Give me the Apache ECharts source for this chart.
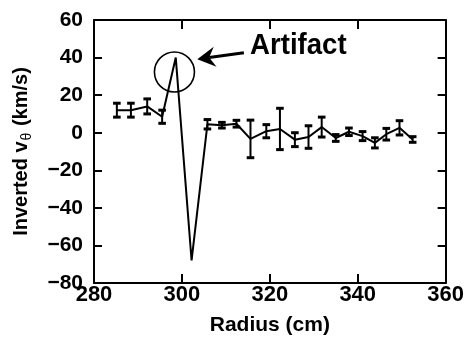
<!DOCTYPE html>
<html>
<head>
<meta charset="utf-8">
<script src="https://cdn.jsdelivr.net/npm/echarts@6/dist/echarts.min.js"></script>
<style>html,body{margin:0;padding:0;background:#fff}#c{width:467px;height:346px}</style>
</head>
<body>
<div id="c"></div>
<script>
// Data
const radius = [285.2, 288.4, 292.1, 295.5, 298.6, 302.2, 305.8, 309.1, 312.4, 315.6, 319.2, 322.3, 325.7, 328.8, 331.8, 335.0, 338.0, 341.1, 343.9, 346.5, 349.5, 352.5];
const vtheta = [12, 12, 14, 8.5, 40, -68, 4.5, 4, 4.8, -3.3, 0.8, 2, -3.7, -2.3, 3, -2.8, 0.5, -1.8, -5.4, -0.8, 2.6, -3.6];
const errHalf = [3.7, 3.7, 4, 3.5, 0, 0, 2.5, 1.5, 1.8, 10, 3.5, 11, 3.7, 6, 5.3, 1.8, 2, 2.4, 2.7, 3.1, 3.8, 1.5];
const xTicks = [280, 300, 320, 340, 360];
const yTicks = [-80, -60, -40, -20, 0, 20, 40, 60];
const annotation = { text: 'Artifact', circleCenter: [298.3, 32.3], arrowTip: [303.5, 39.1], arrowTail: [314.1, 42.6], textAnchor: [315.5, 46.2] };

const FONT = '"Liberation Sans", Arial, sans-serif';
const chart = echarts.init(document.getElementById('c'), null, { renderer: 'canvas' });

const lineData = radius.map((r, i) => [r, vtheta[i]]);
const errData = radius.map((r, i) => [r, vtheta[i] - errHalf[i], vtheta[i] + errHalf[i]]).filter((d, i) => errHalf[i] > 0);

const axisCommon = {
  min: xTicks[0], max: xTicks[xTicks.length - 1], interval: 20,
  axisLine: { show: true, onZero: false, lineStyle: { color: '#000', width: 2 } },
  axisTick: { show: true, inside: true, length: 9, lineStyle: { color: '#000', width: 2 } },
  splitLine: { show: false }
};

chart.setOption({
  animation: false,
  grid: { left: 94, right: 15, top: 20, bottom: 63, containLabel: false },
  xAxis: [
    Object.assign({}, axisCommon, {
      type: 'value', position: 'bottom',
      axisLabel: { color: '#000', fontFamily: FONT, fontWeight: 'bold', fontSize: 22, margin: 1, showMinLabel: true, showMaxLabel: true },
      name: 'Radius (cm)', nameLocation: 'middle', nameGap: 32,
      nameTextStyle: { color: '#000', fontFamily: FONT, fontWeight: 'bold', fontSize: 21 }
    }),
    Object.assign({}, axisCommon, { type: 'value', position: 'top', axisLabel: { show: false } })
  ],
  yAxis: [
    {
      type: 'value', min: yTicks[0], max: yTicks[yTicks.length - 1], interval: 20, position: 'left',
      axisLine: { show: true, onZero: false, lineStyle: { color: '#000', width: 2 } },
      axisTick: { show: true, inside: true, length: 8, lineStyle: { color: '#000', width: 2 } },
      splitLine: { show: false },
      axisLabel: { color: '#000', fontFamily: FONT, fontWeight: 'bold', fontSize: 21, margin: 11,
        formatter: v => (v < 0 ? '\u2212' + Math.abs(v) : String(v)) },
      name: 'Inverted v{sub|θ} (km/s)', nameLocation: 'middle', nameGap: 60, nameRotate: 90,
      nameTextStyle: { color: '#000', fontFamily: FONT, fontWeight: 'bold', fontSize: 20,
        rich: { sub: { fontFamily: FONT, fontWeight: 'normal', fontSize: 14, color: '#000', padding: [12, 1, 0, 1] } } }
    },
    {
      type: 'value', min: yTicks[0], max: yTicks[yTicks.length - 1], interval: 20, position: 'right',
      axisLine: { show: true, onZero: false, lineStyle: { color: '#000', width: 2 } },
      axisTick: { show: true, inside: true, length: 8, lineStyle: { color: '#000', width: 2 } },
      splitLine: { show: false }, axisLabel: { show: false }
    }
  ],
  series: [
    {
      type: 'line', data: lineData, symbol: 'none', xAxisIndex: 0, yAxisIndex: 0,
      lineStyle: { color: '#000', width: 2 }, z: 3
    },
    {
      type: 'custom', xAxisIndex: 0, yAxisIndex: 0, z: 4,
      data: errData,
      renderItem: function (params, api) {
        const x = api.value(0);
        const lo = api.coord([x, api.value(1)]);
        const hi = api.coord([x, api.value(2)]);
        const cw = 3.8;
        const st = { stroke: '#000', lineWidth: 2 };
        return {
          type: 'group',
          children: [
            { type: 'line', shape: { x1: lo[0], y1: lo[1], x2: hi[0], y2: hi[1] }, style: st },
            { type: 'line', shape: { x1: lo[0] - cw, y1: lo[1], x2: lo[0] + cw, y2: lo[1] }, style: { stroke: '#000', lineWidth: 3 } },
            { type: 'line', shape: { x1: hi[0] - cw, y1: hi[1], x2: hi[0] + cw, y2: hi[1] }, style: { stroke: '#000', lineWidth: 3 } }
          ]
        };
      }
    }
  ]
});

function drawAnnotation() {
  const c = chart.convertToPixel({ xAxisIndex: 0, yAxisIndex: 0 }, annotation.circleCenter);
  const tip = chart.convertToPixel({ xAxisIndex: 0, yAxisIndex: 0 }, annotation.arrowTip);
  const tail = chart.convertToPixel({ xAxisIndex: 0, yAxisIndex: 0 }, annotation.arrowTail);
  const tp = chart.convertToPixel({ xAxisIndex: 0, yAxisIndex: 0 }, annotation.textAnchor);
  const dx = tip[0] - tail[0], dy = tip[1] - tail[1];
  const len = Math.hypot(dx, dy);
  const ux = dx / len, uy = dy / len;
  const nx = -uy, ny = ux;
  const L = 18, W = 10, N = 6;
  const p1 = [tip[0] - L * ux + W * nx, tip[1] - L * uy + W * ny];
  const p2 = [tip[0] - (L - N) * ux, tip[1] - (L - N) * uy];
  const p3 = [tip[0] - L * ux - W * nx, tip[1] - L * uy - W * ny];
  chart.setOption({
    graphic: [
      { type: 'circle', shape: { cx: c[0], cy: c[1], r: 20 }, style: { fill: 'none', stroke: '#000', lineWidth: 1.6 }, z: 10 },
      { type: 'line', shape: { x1: tail[0], y1: tail[1], x2: p2[0], y2: p2[1] }, style: { stroke: '#000', lineWidth: 3 }, z: 10 },
      { type: 'polygon', shape: { points: [tip, p1, p2, p3] }, style: { fill: '#000' }, z: 10 },
      { type: 'text', x: tp[0], y: tp[1], style: { text: annotation.text, fill: '#000', font: 'bold 30px ' + FONT, textAlign: 'left', textVerticalAlign: 'middle' }, scaleX: 0.92, z: 10 }
    ]
  });
}
drawAnnotation();
</script>
</body>
</html>
